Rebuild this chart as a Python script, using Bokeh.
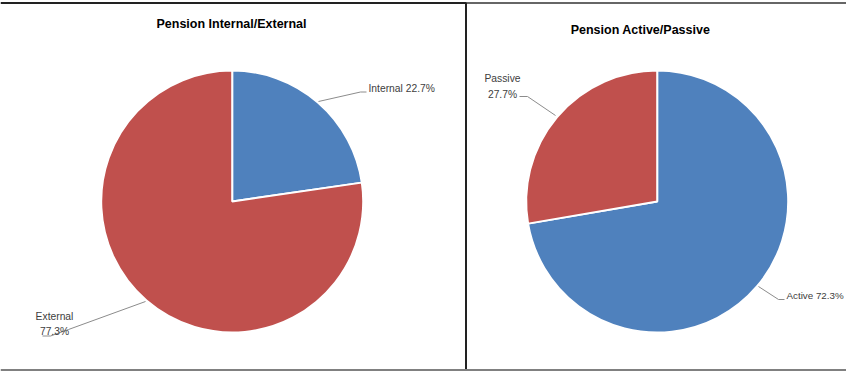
import math
from bokeh.plotting import figure
from bokeh.models import Range1d, ColumnDataSource
from bokeh.core.properties import value
from bokeh.embed import file_html
from bokeh.resources import INLINE

# ---- data ----
titles = ["Pension Internal/External", "Pension Active/Passive"]
left_names = ["Internal", "External"]
left_values = [22.7, 77.3]
right_names = ["Active", "Passive"]
right_values = [72.3, 27.7]
colors = ["#4F81BD", "#C0504D"]

H = 371  # reference height, y flipped so data y = H - screen y
W_FIG, H_FIG = 846, 371

p = figure(width=W_FIG, height=H_FIG, output_backend="svg", toolbar_location=None,
           x_range=Range1d(0, W_FIG), y_range=Range1d(0, H_FIG),
           min_border=0, outline_line_color=None)
p.axis.visible = False
p.grid.visible = False
p.background_fill_color = "white"


def Y(y):
    return H - y


def pie(cx, cy, vals, names):
    total = sum(vals)
    start = math.pi / 2
    starts, ends = [], []
    for v in vals:
        end = start - v / total * 2 * math.pi
        starts.append(start)
        ends.append(end)
        start = end
    src = ColumnDataSource(dict(x=[cx] * len(vals), y=[Y(cy)] * len(vals),
                                s=starts, e=ends, c=colors[:len(vals)]))
    p.wedge(x="x", y="y", radius=131, radius_units="screen", start_angle="s", end_angle="e",
            direction="clock", fill_color="c", line_color="white", line_width=2, source=src)


# panel borders
p.line([0, 466], [Y(2.5), Y(2.5)], line_color="#222222", line_width=2)
p.line([466, 846], [Y(2.5), Y(2.5)], line_color="#666666", line_width=2)
p.line([465.5, 465.5], [Y(2), Y(370)], line_color="#222222", line_width=2)
p.line([0, 846], [Y(369.5), Y(369.5)], line_color="#808080", line_width=2)

pie(231.7, 201, left_values, left_names)
pie(656.7, 201, right_values, right_names)

title_font = value("Liberation Sans")
p.text(x=[231, 640], y=[Y(23), Y(29)], text=titles, text_font=title_font,
       text_font_size="12.5px", text_font_style="bold", text_color="#000000",
       text_align="center", text_baseline="middle")

lbl_font = value("Liberation Sans")
lc = "#404040"
fs = "10.3px"
# leader lines
p.line([318, 360, 366], [Y(101), Y(91.5), Y(91.5)], line_color="#8c8c8c", line_width=1)
p.line([145, 68, 50, 42], [Y(301), Y(329), Y(335.5), Y(335.5)], line_color="#8c8c8c", line_width=1)
p.line([555, 527, 519], [Y(115), Y(96), Y(96)], line_color="#8c8c8c", line_width=1)
p.line([758, 778, 784], [Y(286), Y(299), Y(299)], line_color="#8c8c8c", line_width=1)

p.text(x=[368], y=[Y(88)], text=[f"{left_names[0]} {left_values[0]}%"], text_font=lbl_font,
       text_font_size=fs, text_color=lc, text_align="left", text_baseline="middle")
p.text(x=[54, 54], y=[Y(316), Y(331)], text=[left_names[1], f"{left_values[1]}%"], text_font=lbl_font,
       text_font_size=fs, text_color=lc, text_align="center", text_baseline="middle")
p.text(x=[502, 502], y=[Y(78), Y(94)], text=[right_names[1], f"{right_values[1]}%"], text_font=lbl_font,
       text_font_size=fs, text_color=lc, text_align="center", text_baseline="middle")
p.text(x=[786], y=[Y(295)], text=[f"{right_names[0]} {right_values[0]}%"], text_font=lbl_font,
       text_font_size="9.8px", text_color=lc, text_align="left", text_baseline="middle")

open("out.html", "w").write(file_html(p, INLINE))
